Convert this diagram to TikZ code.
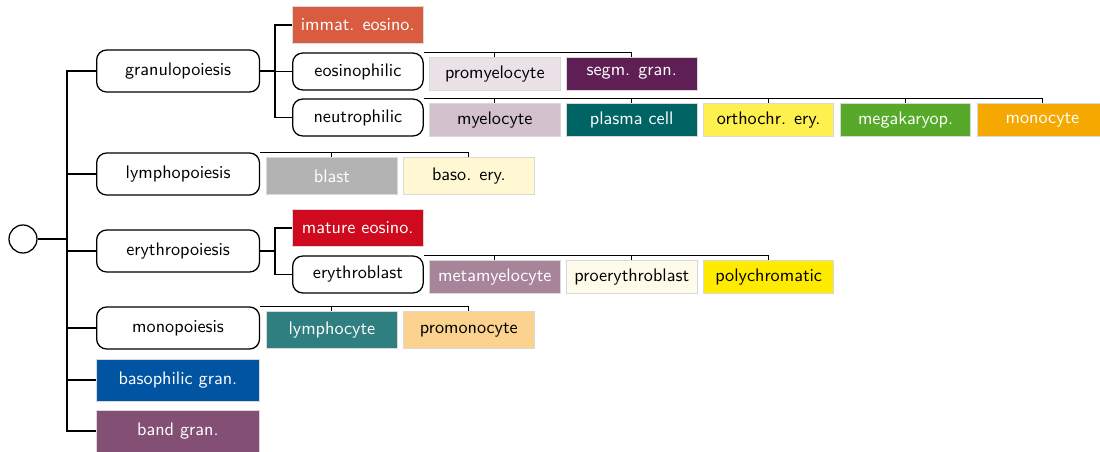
\documentclass[tikz,border=0pt]{standalone}
\usepackage{tikz}
\usetikzlibrary{positioning}

\definecolor{cImmat}{HTML}{D95C41}
\definecolor{cProm}{HTML}{EBE2E8}
\definecolor{cSegm}{HTML}{5F1F55}
\definecolor{cMyel}{HTML}{D3C2CD}
\definecolor{cPlasma}{HTML}{006464}
\definecolor{cOrtho}{HTML}{FEF04F}
\definecolor{cMegak}{HTML}{56A929}
\definecolor{cMono}{HTML}{F5A800}
\definecolor{cBlast}{HTML}{B3B3B3}
\definecolor{cBaso}{HTML}{FFF8D2}
\definecolor{cMature}{HTML}{CF0A1E}
\definecolor{cMeta}{HTML}{A78499}
\definecolor{cProery}{HTML}{FEFBEA}
\definecolor{cPoly}{HTML}{FFEB00}
\definecolor{cLympho}{HTML}{2F7F80}
\definecolor{cPromono}{HTML}{FCD28F}
\definecolor{cBasoGran}{HTML}{0054A2}
\definecolor{cBand}{HTML}{834F74}

\begin{document}
\begin{tikzpicture}[x=0.55pt, y=-0.55pt, every node/.style={font=\sffamily},
  proc/.style={rectangle, draw, rounded corners=5.5pt, line width=0.7pt, fill=white},
  cell/.style={rectangle, draw=black!15, line width=0.5pt, text=white},
  dcell/.style={cell, text=black},
  lvlA/.style={minimum width=89.6pt, minimum height=23.1pt},
  lvlB/.style={minimum width=71.8pt, minimum height=20.3pt},
  lvlC/.style={minimum width=71.8pt, minimum height=18.2pt},
  link/.style={line width=0.8pt},
  sublink/.style={line width=0.5pt}]
  \useasboundingbox (0,0) rectangle (1100,452);

  % root and first level
  \node[circle, draw, line width=0.7pt, minimum size=15.4pt, inner sep=0pt] (root) at (23,239) {};
  \node[proc, lvlA, anchor=west] (gran) at (96,71) {granulopoiesis};
  \node[proc, lvlA, anchor=west] (lymph) at (96,174) {lymphopoiesis};
  \node[proc, lvlA, anchor=west] (eryth) at (96,251) {erythropoiesis};
  \node[proc, lvlA, anchor=west] (mono) at (96,328) {monopoiesis};
  \node[cell, lvlA, fill=cBasoGran, anchor=west] (baso) at (96,380) {basophilic gran.};
  \node[cell, lvlA, fill=cBand, anchor=west] (band) at (96,431) {band gran.};

  % second level
  \node[cell, lvlB, fill=cImmat, anchor=west] (immat) at (292,25) {immat. eosino.};
  \node[proc, lvlB, anchor=west] (eos) at (292,71.5) {eosinophilic};
  \node[proc, lvlB, anchor=west] (neut) at (292,117.5) {neutrophilic};
  \node[cell, lvlB, fill=cMature, anchor=west] (mature) at (292,228) {mature eosino.};
  \node[proc, lvlB, anchor=west] (ebl) at (292,274.5) {erythroblast};

  % rows of cells
  \node[dcell, lvlC, fill=cProm, below right=2.3pt and 2.9pt of eos.north east] (prom) {promyelocyte};
  \node[cell, lvlC, fill=cSegm, right=3pt of prom] (segm) {segm. gran.};

  \node[dcell, lvlC, fill=cMyel, below right=2.6pt and 2.9pt of neut.north east] (myel) {myelocyte};
  \node[cell, lvlC, fill=cPlasma, right=3pt of myel] (plasma) {plasma cell};
  \node[dcell, lvlC, fill=cOrtho, right=3pt of plasma] (ortho) {orthochr. ery.};
  \node[cell, lvlC, fill=cMegak, right=3pt of ortho] (megak) {megakaryop.};
  \node[cell, lvlC, fill=cMono, right=3pt of megak] (monoc) {monocyte};

  \node[cell, lvlB, fill=cBlast, below right=2.7pt and 3.3pt of lymph.north east] (blast) {blast};
  \node[dcell, lvlB, fill=cBaso, right=3pt of blast] (basoery) {baso. ery.};

  \node[cell, lvlC, fill=cMeta, below right=2.3pt and 2.9pt of ebl.north east] (meta) {metamyelocyte};
  \node[dcell, lvlC, fill=cProery, right=3pt of meta] (proery) {proerythroblast};
  \node[dcell, lvlC, fill=cPoly, right=3pt of proery] (poly) {polychromatic};

  \node[cell, lvlB, fill=cLympho, below right=2.7pt and 3.3pt of mono.north east] (lympho) {lymphocyte};
  \node[dcell, lvlB, fill=cPromono, right=3pt of lympho] (promono) {promonocyte};

  % connectors
  \coordinate (trunk) at (67,239);
  \coordinate (gfork) at (275,71);
  \coordinate (efork) at (275,251);
  \draw[link] (root) -- (trunk);
  \foreach \n in {gran,lymph,eryth,mono,baso,band}
    \draw[link] (trunk) |- (\n.west);
  \draw[link] (gran) -- (gfork);
  \foreach \n in {immat,eos,neut}
    \draw[link] (gfork) |- (\n.west);
  \draw[link] (eryth) -- (efork);
  \foreach \n in {mature,ebl}
    \draw[link] (efork) |- (\n.west);

  \foreach \n in {prom,segm}
    \draw[sublink] (eos.north east) -| (\n.north);
  \foreach \n in {myel,plasma,ortho,megak,monoc}
    \draw[sublink] (neut.north east) -| (\n.north);
  \foreach \n in {blast,basoery}
    \draw[sublink] (lymph.north east) -| (\n.north);
  \foreach \n in {meta,proery,poly}
    \draw[sublink] (ebl.north east) -| (\n.north);
  \foreach \n in {lympho,promono}
    \draw[sublink] (mono.north east) -| (\n.north);
\end{tikzpicture}
\end{document}
